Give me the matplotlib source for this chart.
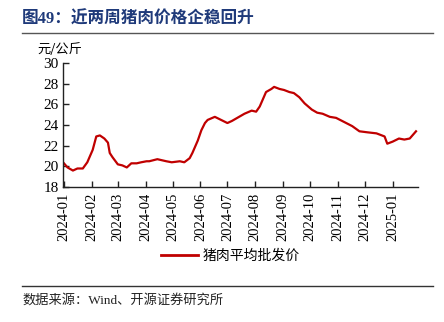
import matplotlib
matplotlib.use("Agg")
import matplotlib.pyplot as plt
import matplotlib.dates as mdates
import pandas as pd
from matplotlib.lines import Line2D

plt.rcParams['font.family'] = ['Liberation Serif', 'Noto Sans CJK SC', 'DejaVu Sans']

# 猪肉平均批发价 (元/公斤)
dates = [
    "2024-01-01", "2024-01-05", "2024-01-11", "2024-01-16", "2024-01-22", "2024-01-27",
    "2024-02-02", "2024-02-06", "2024-02-10", "2024-02-15", "2024-02-19", "2024-02-21",
    "2024-02-24", "2024-03-01", "2024-03-06", "2024-03-11", "2024-03-16", "2024-03-22",
    "2024-03-27", "2024-04-02", "2024-04-05", "2024-04-14", "2024-04-24", "2024-04-30",
    "2024-05-09", "2024-05-14", "2024-05-20", "2024-05-23", "2024-05-29", "2024-06-02",
    "2024-06-06", "2024-06-09", "2024-06-17", "2024-06-24", "2024-07-01", "2024-07-06",
    "2024-07-12", "2024-07-20", "2024-07-28", "2024-08-02", "2024-08-06", "2024-08-09",
    "2024-08-13", "2024-08-19", "2024-08-22", "2024-08-28", "2024-09-02", "2024-09-08",
    "2024-09-13", "2024-09-19", "2024-09-25", "2024-10-03", "2024-10-09", "2024-10-15",
    "2024-10-23", "2024-10-30", "2024-11-08", "2024-11-17", "2024-11-25", "2024-12-04",
    "2024-12-14", "2024-12-23", "2024-12-26", "2025-01-01", "2025-01-08", "2025-01-14",
    "2025-01-20", "2025-01-23", "2025-01-27",
]
price = [
    20.3, 19.9, 19.6, 19.8, 19.8, 20.4,
    21.6, 22.9, 23.0, 22.7, 22.3, 21.3,
    20.9, 20.2, 20.1, 19.9, 20.3, 20.3,
    20.4, 20.5, 20.5, 20.7, 20.5, 20.4,
    20.5, 20.4, 20.8, 21.3, 22.5, 23.5,
    24.2, 24.5, 24.8, 24.5, 24.2, 24.4,
    24.7, 25.1, 25.4, 25.3, 25.8, 26.4,
    27.2, 27.5, 27.7, 27.5, 27.4, 27.2,
    27.1, 26.7, 26.1, 25.5, 25.2, 25.1,
    24.8, 24.7, 24.3, 23.9, 23.4, 23.3,
    23.2, 22.9, 22.2, 22.4, 22.7, 22.6,
    22.7, 23.0, 23.4,
]
month_ticks = pd.date_range("2024-01-01", "2025-01-01", freq="MS")
y_ticks = [18, 20, 22, 24, 26, 28, 30]

dates = pd.to_datetime(dates)

fig = plt.figure(figsize=(4.44, 3.22), dpi=100)
ax = fig.add_axes([0.142, 0.419, 0.799, 0.385])

red = '#C00000'
ax.plot(dates, price, color=red, linewidth=1.6, solid_joinstyle='round')

ax.set_xlim(pd.Timestamp("2023-12-31"), pd.Timestamp("2025-01-29"))
ax.set_ylim(18, 30)
ax.set_yticks(y_ticks)
ax.set_xticks(month_ticks)
ax.xaxis.set_major_formatter(mdates.DateFormatter('%Y-%m'))
for s in ['top', 'right']:
    ax.spines[s].set_visible(False)
for s in ['left', 'bottom']:
    ax.spines[s].set_linewidth(1.0)
    ax.spines[s].set_color('#222222')
ax.tick_params(axis='both', direction='in', length=4, width=1, color='#222222',
               labelsize=11)
ax.tick_params(axis='x', labelrotation=90, labelsize=10.5, pad=4)
ax.tick_params(axis='y', pad=3)

# y unit label
fig.text(0.085, 0.845, '元/公斤', fontsize=9.5, ha='left', va='center',
         family=['Noto Sans CJK SC'])

# legend
handle = Line2D([0], [0], color=red, linewidth=2)
fig.legend(handles=[handle], labels=['猪肉平均批发价'], loc='center',
           bbox_to_anchor=(0.52, 0.205), frameon=False, fontsize=10,
           handlelength=2.6, handletextpad=0.4,
           prop={'family': ['Noto Sans CJK SC'], 'size': 10})

# title, rules and source
fig.text(0.05, 0.94, '图49：近两周猪肉价格企稳回升', fontsize=12, fontweight='bold',
         color='#1F3A7A', ha='left', va='center')
fig.add_artist(Line2D([0.05, 0.975], [0.897, 0.897], color='#555555', linewidth=1.0))
fig.add_artist(Line2D([0.05, 0.975], [0.112, 0.112], color='#333333', linewidth=1.0))
fig.text(0.05, 0.068, '数据来源：Wind、开源证券研究所', fontsize=9.5,
         ha='left', va='center', color='#222222')

fig.savefig('out.png', dpi=100)
